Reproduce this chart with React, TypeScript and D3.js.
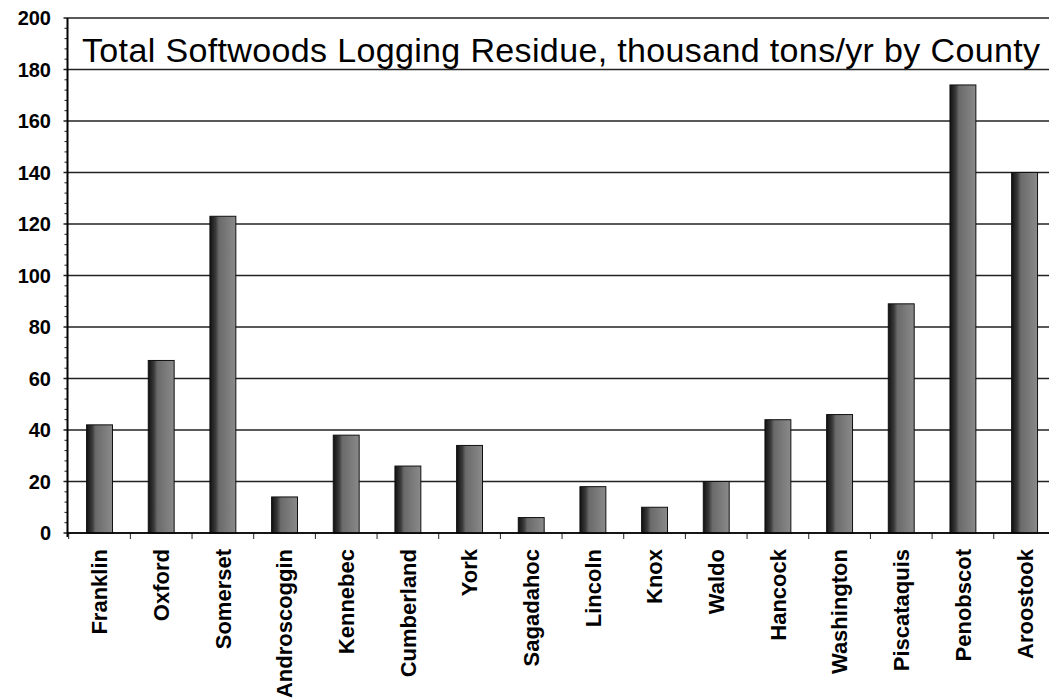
import React from "react";
import * as d3 from "d3";

const counties = ["Franklin","Oxford","Somerset","Androscoggin","Kennebec","Cumberland","York","Sagadahoc","Lincoln","Knox","Waldo","Hancock","Washington","Piscataquis","Penobscot","Aroostook"];
const residue = [42,67,123,14,38,26,34,6,18,10,20,44,46,89,174,140];
const yTicks = [0,20,40,60,80,100,120,140,160,180,200];
const title = "Total Softwoods Logging Residue, thousand tons/yr by County";

export default function App() {
  const W = 1049, H = 698;
  const axisX = 67.5, bandLeft = 68.7, step = 61.67, right = 1049, top = 18, bottom = 533;
  const x = d3.scaleBand<string>().domain(counties).range([bandLeft, bandLeft + step * counties.length]).paddingInner(0.58).paddingOuter(0.29);
  const y = d3.scaleLinear().domain([0, 200]).range([bottom, top]);
  const minor = d3.range(0, 201, 4).filter(v => v % 20 !== 0);
  const font = "Arial, 'Liberation Sans', sans-serif";
  return (
    <svg width={W} height={H} style={{ position: "absolute", left: 0, top: 0, background: "#fff" }}>
      <defs>
        <linearGradient id="barg" x1="0" x2="1" y1="0" y2="0">
          <stop offset="0" stopColor="#111" />
          <stop offset="0.22" stopColor="#3a3a3a" />
          <stop offset="0.35" stopColor="#6a6a6a" />
          <stop offset="1" stopColor="#8a8a8a" />
        </linearGradient>
      </defs>
      <rect x={0} y={0} width={W} height={H} fill="#fff" />
      {yTicks.map(t => (
        <g key={t}>
          <line x1={axisX - 4} x2={right} y1={y(t)} y2={y(t)} stroke="#222" strokeWidth={1.3} />
          <text x={51} y={y(t)} dy="0.36em" textAnchor="end" fontFamily={font} fontWeight="bold" fontSize={20} fill="#000">{t}</text>
        </g>
      ))}
      {minor.map(t => (
        <line key={t} x1={axisX - 3} x2={axisX} y1={y(t)} y2={y(t)} stroke="#222" strokeWidth={1} />
      ))}
      <line x1={axisX} x2={axisX} y1={top} y2={bottom + 4} stroke="#000" strokeWidth={2} />
      {counties.map((c, i) => (
        <line key={c} x1={bandLeft + i * x.step()} x2={bandLeft + i * x.step()} y1={bottom} y2={bottom + 6} stroke="#222" strokeWidth={1} />
      ))}
      {counties.map((c, i) => (
        <rect key={c} x={x(c)} y={y(residue[i])} width={x.bandwidth()} height={bottom - y(residue[i])} fill="url(#barg)" stroke="#111" strokeWidth={1} />
      ))}
      <line x1={axisX} x2={right} y1={bottom} y2={bottom} stroke="#000" strokeWidth={1.5} />
      <text x={82} y={62} fontFamily={font} fontSize={34} textLength={958} lengthAdjust="spacing" fill="#000">{title}</text>
      {counties.map(c => {
        const cx = (x(c) as number) + x.bandwidth() / 2;
        return (
          <text key={c} transform={`translate(${cx},549) rotate(-90)`} textAnchor="end" dy="0.36em" fontFamily={font} fontWeight="bold" fontSize={22} fill="#000">{c}</text>
        );
      })}
    </svg>
  );
}
